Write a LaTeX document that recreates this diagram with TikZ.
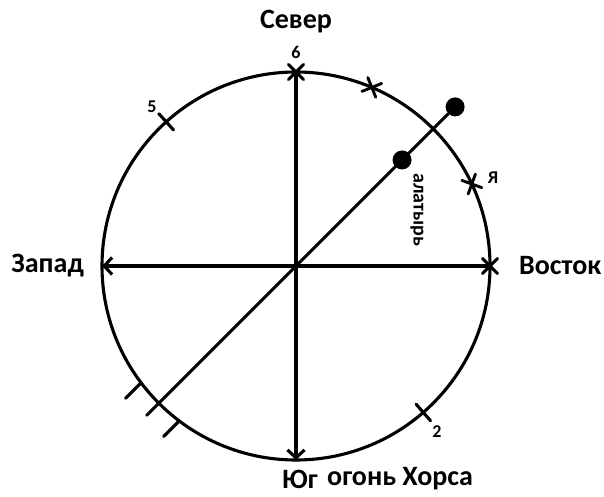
\documentclass[tikz,border=0pt]{standalone}
\usepackage{fontspec}
\setmainfont{Carlito}
\usetikzlibrary{arrows.meta,shapes.misc}

\begin{document}
\begin{tikzpicture}[x=1pt, y=1pt, line cap=round, line join=round,
    axis/.style={line width=3.1pt},
    tip/.style={-{Straight Barb[length=8pt,width=17pt]}},
    xcross/.style={draw, cross out, line width=2.9pt, minimum size=15pt, inner sep=0pt, outer sep=0pt},
    dot/.style={circle, fill, inner sep=0pt, minimum size=19pt},
    side/.style={font=\bfseries\fontsize{28}{30}\selectfont, inner sep=1pt},
    num/.style={font=\bfseries\fontsize{18}{20}\selectfont, inner sep=1pt}]
  \useasboundingbox (0,0) rectangle (604,496);
  % compass circle
  \node[draw, circle, line width=3.1pt, minimum size=388pt, inner sep=0pt, outer sep=0pt] (ring) at (296,230) {};
  \draw[axis, tip] (ring.north) -- (ring.south);
  \draw[axis, tip] (ring.east) -- (ring.west);
  % marks on the circle
  \node[xcross] (m6) at (ring.90) {};
  \node[xcross] (m0) at (ring.0) {};
  \node[xcross, rotate=-23] (m67) at (ring.67) {};
  \node[xcross, rotate=-65] (mya) at (ring.25) {};
  \draw[axis] ([shift={(132:-11)}]ring.132) -- ([shift={(132:11)}]ring.132);
  \draw[axis] ([shift={(-49:-11)}]ring.-49) -- ([shift={(-49:11)}]ring.-49);
  % alatyr line
  \coordinate (sw) at ([shift={(225:211)}]ring.center);
  \node[dot] (sun) at ([shift={(45:225)}]ring.center) {};
  \node[dot] (alatyr) at ([shift={(45:150)}]ring.center) {};
  \draw[axis] (sw) -- (sun);
  \draw[axis] (ring.217) -- ++(225:22);
  \draw[axis] (ring.233) -- ++(225:22);
  % labels
  \node[side] (north) at (296,474) {Север};
  \node[side, anchor=east] (west) at (85,230) {Запад};
  \node[side, anchor=west] (east) at (518,230) {Восток};
  \node[side, anchor=west] (south) at (281,17) {Юг};
  \node[side, anchor=west] (fire) at (326,17) {огонь Хорса};
  \node[num] (n6) at (296,444) {6};
  \node[num] (n5) at (152,389) {5};
  \node[num] (n2) at (437,64) {2};
  \node[num] (nya) at (493,318) {Я};
  \node[num, font=\bfseries\fontsize{20}{22}\selectfont, rotate=-90] (alab) at (417,286) {алатырь};
\end{tikzpicture}
\end{document}
